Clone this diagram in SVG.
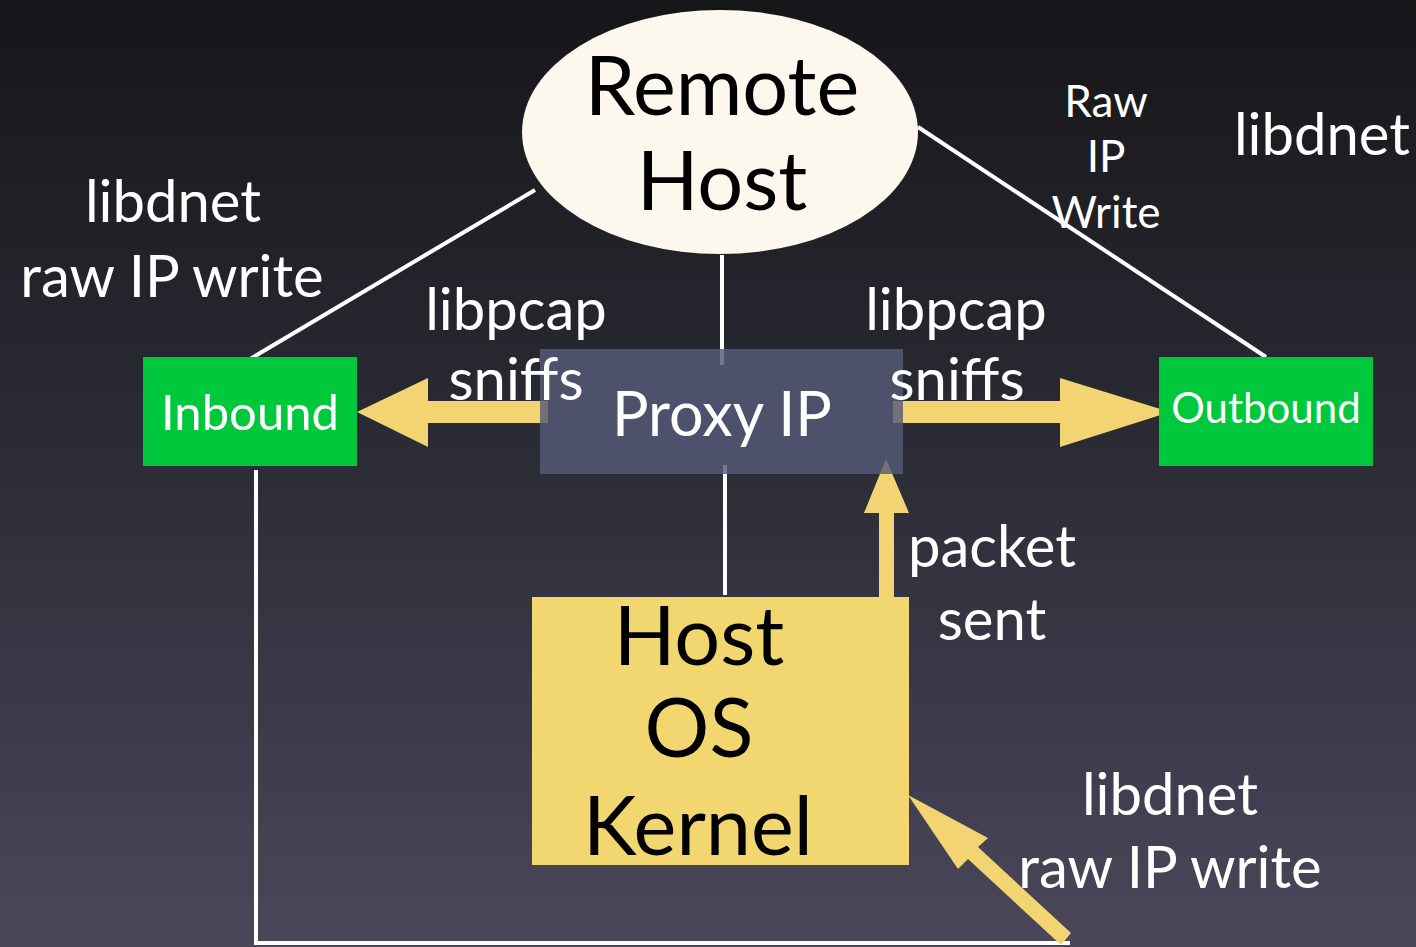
<svg xmlns="http://www.w3.org/2000/svg" width="1416" height="947" viewBox="0 0 1416 947">
<defs>
<linearGradient id="bg" x1="0" y1="0" x2="0" y2="1">
<stop offset="0" stop-color="#161619"/>
<stop offset="0.45" stop-color="#2a2a34"/>
<stop offset="1" stop-color="#4a475a"/>
</linearGradient>
<style>
.w{fill:#ffffff;font-family:Lato,"Open Sans",sans-serif;text-anchor:middle}
.k{fill:#000000;font-family:Lato,"Open Sans",sans-serif;text-anchor:middle}
.ln{stroke:#ffffff;stroke-width:4;fill:none}
.ar{fill:#f2d572}
.grn{fill:#00c83c}
.lb{font-size:58px}
</style>
</defs>
<rect x="0" y="0" width="1416" height="947" fill="url(#bg)"/>

<g id="connectors">
<line class="ln" x1="535" y1="190" x2="240" y2="365"/>
<line class="ln" x1="918" y1="127" x2="1266" y2="357"/>
<line class="ln" x1="722" y1="255" x2="722" y2="365"/>
<line class="ln" x1="725" y1="465" x2="725" y2="595"/>
<polyline class="ln" points="256,470 256,943 1070,943"/>
<polygon class="ar" points="548,401 428,401 428,378 357,412 428,447 428,423 548,423"/>
<polygon class="ar" points="893,401 1060,401 1060,378 1170,412 1060,447 1060,423 893,423"/>
<polygon class="ar" points="879,597 879,513 864,513 886,459 909,513 894,513 894,597"/>
<polygon class="ar" points="1071,933 978,847 988,838 908,795 958,869 968,859 1061,945"/>
</g>

<g id="remote-host">
<ellipse cx="720" cy="132" rx="198" ry="122" fill="#fcf8ee"/>
<text class="k" x="722" y="115" font-size="81">Remote</text>
<text class="k" x="722" y="210" font-size="81">Host</text>
</g>

<g id="proxy-ip">
<rect x="540" y="349" width="363" height="125" fill="#565a78" opacity="0.82"/>
<text class="w" x="722" y="436" font-size="61">Proxy IP</text>
</g>

<g id="inbound">
<rect class="grn" x="143" y="357" width="214" height="109"/>
<text class="w" x="250" y="430" font-size="49">Inbound</text>
</g>

<g id="outbound">
<rect class="grn" x="1159" y="357" width="214" height="109"/>
<text class="w" x="1266" y="423" font-size="42">Outbound</text>
</g>

<g id="host-os-kernel">
<rect x="532" y="597" width="377" height="268" fill="#f2d670"/>
<text class="k" x="699" y="665" font-size="81">Host</text>
<text class="k" x="699" y="757" font-size="81">OS</text>
<text class="k" x="698" y="855" font-size="81">Kernel</text>
</g>

<g id="labels">
<text class="w lb" x="173" y="222">libdnet</text>
<text class="w lb" x="172" y="297">raw IP write</text>
<text class="w lb" x="516" y="330">libpcap</text>
<text class="w lb" x="516" y="400">sniffs</text>
<text class="w lb" x="956" y="330">libpcap</text>
<text class="w lb" x="957" y="400">sniffs</text>
<text class="w" x="1106" y="117" font-size="44">Raw</text>
<text class="w" x="1106" y="172" font-size="44">IP</text>
<text class="w" x="1106" y="228" font-size="44">Write</text>
<text class="w lb" x="1322" y="155">libdnet</text>
<text class="w lb" x="992" y="567">packet</text>
<text class="w lb" x="992" y="640">sent</text>
<text class="w lb" x="1170" y="815">libdnet</text>
<text class="w lb" x="1170" y="888">raw IP write</text>
</g>
</svg>
